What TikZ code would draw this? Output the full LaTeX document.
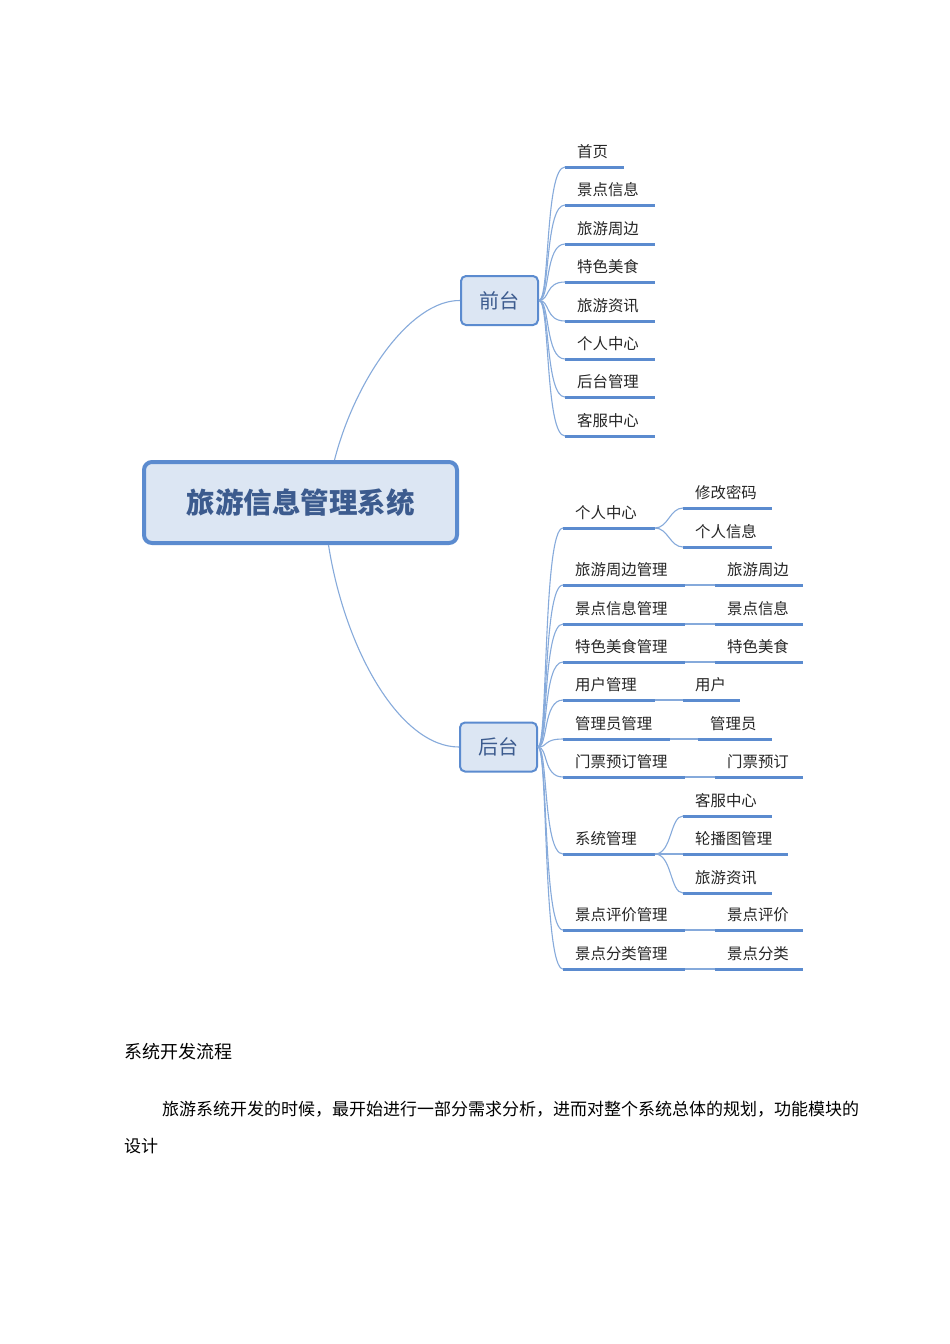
\documentclass[tikz,border=0pt]{standalone}
\usepackage{fontspec}
\setmainfont{Noto Sans CJK SC}
\newfontfamily\cjk{Noto Sans CJK SC}
\definecolor{lineblue}{HTML}{5B8BCF}
\definecolor{curveblue}{HTML}{86AADB}
\definecolor{boxfill}{HTML}{DCE6F3}
\definecolor{rootText}{HTML}{3C5B8E}
\newcommand{\leaf}[6]{% name x1 x2 y text
  \coordinate (#1-s) at (#2,-#4);
  \coordinate (#1-e) at (#3,-#4);
  \draw[leafline] (#1-s) -- (#1-e);
  \node[leaftext] (#1-t) at (#2+12+#6,-#4+10) {#5};
}
\begin{document}
\begin{tikzpicture}[x=1pt,y=1pt,
  leafline/.style={draw=lineblue,line width=3pt},
  conn/.style={draw=curveblue,line width=1.1pt},
  leaftext/.style={anchor=base west,inner sep=0pt,font=\fontsize{15.4}{17}\selectfont,text=black!85},
  mid/.style={draw=lineblue,line width=2pt,fill=boxfill,rounded corners=5pt,minimum width=77pt,minimum height=49pt,font=\fontsize{20}{22}\selectfont,text=rootText}]
\useasboundingbox[fill=white] (0,0) rectangle (950,-1344);
% root
\node[draw=lineblue,line width=4pt,fill=boxfill,rounded corners=8pt,minimum width=313pt,minimum height=81pt,font=\fontsize{28.5}{32}\selectfont\bfseries,text=rootText] (root) at (300.5,-502.5) {旅游信息管理系统};
\node[mid] (front) at (499.5,-300.5) {前台};
\node[mid] (back) at (498.5,-747) {后台};
\draw[conn] (root.north) ++(34,0) coordinate (rt) .. controls (355,-380) and (410,-300) .. (front.west);
\draw[conn] (root.south) ++(28,0) coordinate (rb) .. controls (345,-650) and (400,-747) .. (back.west);
% front leaves
\foreach \n/\t/\y/\xe in {f1/首页/167/624,f2/景点信息/205/655,f3/旅游周边/244/655,f4/特色美食/282/655,f5/旅游资讯/321/655,f6/个人中心/359/655,f7/后台管理/397/655,f8/客服中心/436/655}{
  \leaf{\n}{565}{\xe}{\y}{\t}{0}
  \draw[conn] (front.east) .. controls (550,-300) and (545,-\y) .. (\n-s);
}
% back branches
\foreach \n/\t/\y/\xe in {b1/个人中心/528/655,b2/旅游周边管理/585/685,b3/景点信息管理/624/685,b4/特色美食管理/662/685,b5/用户管理/700/655,b6/管理员管理/739/670,b7/门票预订管理/777/685,b8/系统管理/854/655,b9/景点评价管理/930/685,b10/景点分类管理/969/685}{
  \leaf{\n}{563}{\xe}{\y}{\t}{0}
  \draw[conn] (back.east) .. controls (548,-747) and (543,-\y) .. (\n-s);
}
% sub leaves with straight links
\foreach \n/\p/\t/\y/\xs/\xe in {c2/b2/旅游周边/585/715/803,c3/b3/景点信息/624/715/803,c4/b4/特色美食/662/715/803,c5/b5/用户/700/683/740,c6/b6/管理员/739/698/772,c7/b7/门票预订/777/715/803,c9/b9/景点评价/930/715/803,c10/b10/景点分类/969/715/803}{
  \leaf{\n}{\xs}{\xe}{\y}{\t}{0}
  \draw[conn] (\p-e) -- (\n-s);
}
% sub leaves with curves
\leaf{d1}{683}{772}{508}{修改密码}{0}
\leaf{d2}{683}{772}{547}{个人信息}{0}
\draw[conn] (b1-e) .. controls (668,-528) and (670,-508) .. (d1-s);
\draw[conn] (b1-e) .. controls (668,-528) and (670,-547) .. (d2-s);
\leaf{e1}{683}{772}{816}{客服中心}{0}
\leaf{e2}{683}{788}{854}{轮播图管理}{0}
\leaf{e3}{683}{772}{893}{旅游资讯}{0}
\draw[conn] (b8-e) .. controls (672,-854) and (670,-816) .. (e1-s);
\draw[conn] (b8-e) -- (e2-s);
\draw[conn] (b8-e) .. controls (672,-854) and (670,-893) .. (e3-s);
% body text
\node[anchor=base west,inner sep=0pt,font=\fontsize{18}{20}\selectfont\mdseries,text=black] (h) at (124,-1058) {系统开发流程};
\node[anchor=base west,inner sep=0pt,font=\fontsize{17}{20}\selectfont\mdseries,text=black] (p1) at (162,-1115) {旅游系统开发的时候，最开始进行一部分需求分析，进而对整个系统总体的规划，功能模块的};
\node[anchor=base west,inner sep=0pt,font=\fontsize{17}{20}\selectfont\mdseries,text=black] (p2) at (124,-1152) {设计};
\end{tikzpicture}
\end{document}
